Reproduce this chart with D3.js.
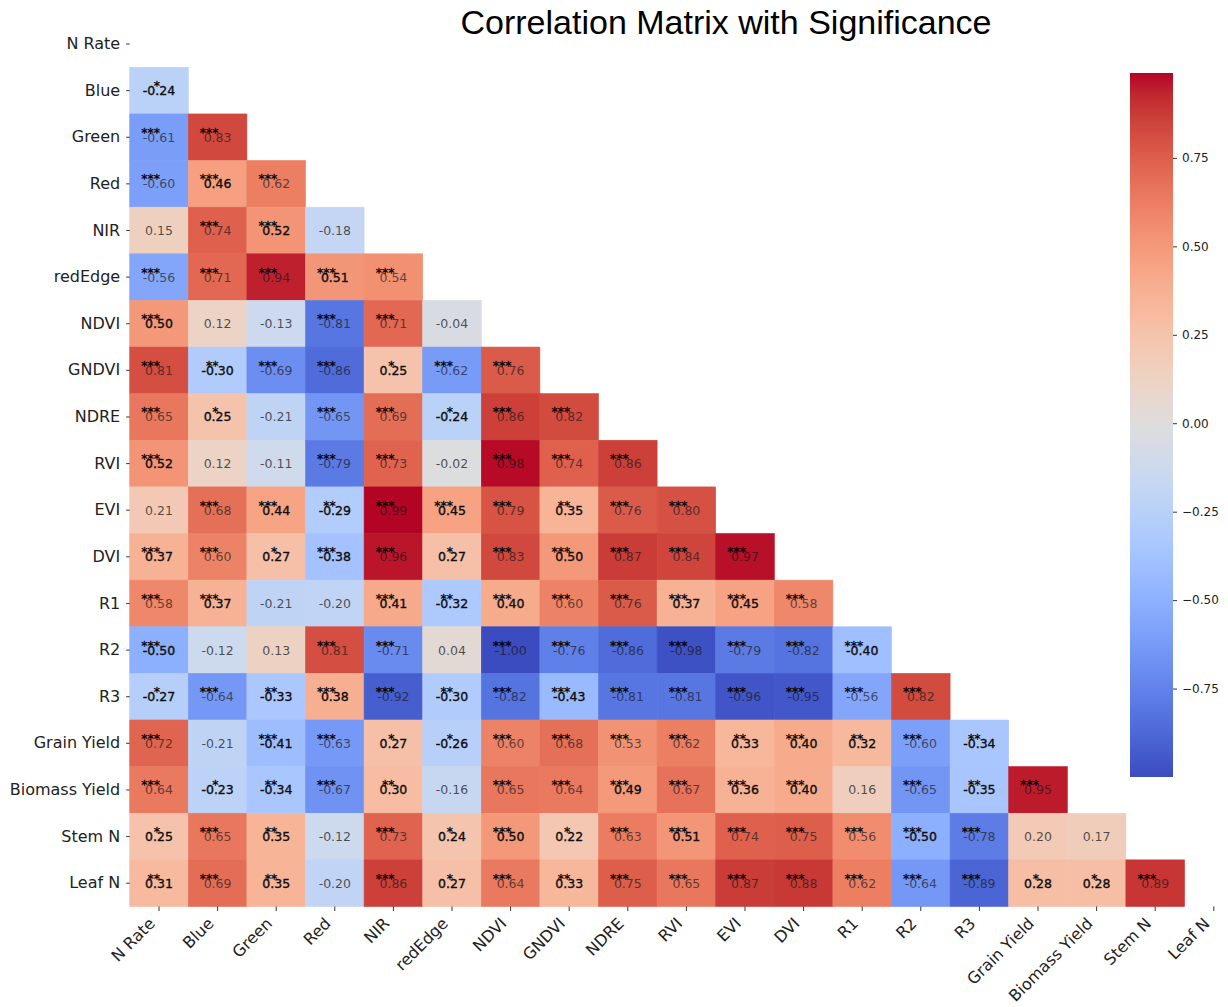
<!DOCTYPE html>
<html>
<head>
<meta charset="utf-8">
<script src="https://cdn.jsdelivr.net/npm/d3@7"></script>
<style>
  body { margin: 0; background: #fff; }
  svg { display: block; }
  text { font-family: "DejaVu Sans", sans-serif; }
</style>
</head>
<body>
<svg id="chart" width="1228" height="1007"></svg>
<script>
// Variables, in matrix order (rows top to bottom, columns left to right)
const variables = ["N Rate", "Blue", "Green", "Red", "NIR", "redEdge", "NDVI", "GNDVI", "NDRE",
  "RVI", "EVI", "DVI", "R1", "R2", "R3", "Grain Yield", "Biomass Yield", "Stem N", "Leaf N"];

// Lower triangle of the Pearson correlation matrix (row i holds columns 0..i-1)
const corrRows = [
  [],
  [-0.24],
  [-0.61, 0.83],
  [-0.60, 0.46, 0.62],
  [0.15, 0.74, 0.52, -0.18],
  [-0.56, 0.71, 0.94, 0.51, 0.54],
  [0.50, 0.12, -0.13, -0.81, 0.71, -0.04],
  [0.81, -0.30, -0.69, -0.86, 0.25, -0.62, 0.76],
  [0.65, 0.25, -0.21, -0.65, 0.69, -0.24, 0.86, 0.82],
  [0.52, 0.12, -0.11, -0.79, 0.73, -0.02, 0.98, 0.74, 0.86],
  [0.21, 0.68, 0.44, -0.29, 0.99, 0.45, 0.79, 0.35, 0.76, 0.80],
  [0.37, 0.60, 0.27, -0.38, 0.96, 0.27, 0.83, 0.50, 0.87, 0.84, 0.97],
  [0.58, 0.37, -0.21, -0.20, 0.41, -0.32, 0.40, 0.60, 0.76, 0.37, 0.45, 0.58],
  [-0.50, -0.12, 0.13, 0.81, -0.71, 0.04, -1.00, -0.76, -0.86, -0.98, -0.79, -0.82, -0.40],
  [-0.27, -0.64, -0.33, 0.38, -0.92, -0.30, -0.82, -0.43, -0.81, -0.81, -0.96, -0.95, -0.56, 0.82],
  [0.72, -0.21, -0.41, -0.63, 0.27, -0.26, 0.60, 0.68, 0.53, 0.62, 0.33, 0.40, 0.32, -0.60, -0.34],
  [0.64, -0.23, -0.34, -0.67, 0.30, -0.16, 0.65, 0.64, 0.49, 0.67, 0.36, 0.40, 0.16, -0.65, -0.35, 0.95],
  [0.25, 0.65, 0.35, -0.12, 0.73, 0.24, 0.50, 0.22, 0.63, 0.51, 0.74, 0.75, 0.56, -0.50, -0.78, 0.20, 0.17],
  [0.31, 0.69, 0.35, -0.20, 0.86, 0.27, 0.64, 0.33, 0.75, 0.65, 0.87, 0.88, 0.62, -0.64, -0.89, 0.28, 0.28, 0.89]
];

// Significance level per cell: number of stars (0 = n.s., 1 = p<0.05, 2 = p<0.01, 3 = p<0.001)
const starRows = [
  [],
  [1],
  [3, 3],
  [3, 3, 3],
  [0, 3, 3, 0],
  [3, 3, 3, 3, 3],
  [3, 0, 0, 3, 3, 0],
  [3, 2, 3, 3, 1, 3, 3],
  [3, 1, 0, 3, 3, 1, 3, 3],
  [3, 0, 0, 3, 3, 0, 3, 3, 3],
  [0, 3, 3, 2, 3, 3, 3, 2, 3, 3],
  [3, 3, 1, 3, 3, 1, 3, 3, 3, 3, 3],
  [3, 3, 0, 0, 3, 2, 3, 3, 3, 3, 3, 3],
  [3, 0, 0, 3, 3, 0, 3, 3, 3, 3, 3, 3, 3],
  [1, 3, 2, 3, 3, 2, 3, 3, 3, 3, 3, 3, 3, 3],
  [3, 0, 3, 3, 1, 1, 3, 3, 3, 3, 2, 3, 2, 3, 2],
  [3, 1, 2, 3, 2, 0, 3, 3, 3, 3, 3, 3, 0, 3, 2, 3],
  [1, 3, 2, 0, 3, 1, 3, 1, 3, 3, 3, 3, 3, 3, 3, 0, 0],
  [2, 3, 2, 0, 3, 1, 3, 2, 3, 3, 3, 3, 3, 3, 3, 1, 1, 3]
];

// Colour bar tick values
const colorbarTicks = [-0.75, -0.50, -0.25, 0.00, 0.25, 0.50, 0.75];

// Diverging cool-warm palette (Moreland), 33 evenly spaced stops
const coolwarmStops = [
  [59, 76, 192], [68, 90, 204], [77, 104, 215], [87, 117, 225], [98, 130, 234], [108, 142, 241],
  [119, 154, 247], [130, 165, 251], [141, 176, 254], [152, 185, 255], [163, 194, 255], [174, 201, 253],
  [184, 208, 249], [194, 213, 244], [204, 217, 238], [213, 219, 230], [221, 221, 221], [229, 216, 209],
  [236, 211, 197], [241, 204, 185], [245, 196, 173], [247, 187, 160], [247, 177, 148], [247, 166, 135],
  [244, 154, 123], [241, 141, 111], [236, 127, 99], [229, 112, 88], [222, 96, 77], [213, 80, 66],
  [203, 62, 56], [192, 40, 47], [180, 4, 38]
];

const svg = d3.select("#chart");

// ---- scales -------------------------------------------------------------
const x = d3.scaleBand().domain(variables).range([129.7, 129.7 + 58.6 * variables.length]);
const y = d3.scaleBand().domain(variables).range([20.7, 906.5]);

const cells = [];
corrRows.forEach((row, i) => row.forEach((v, j) => {
  cells.push({ row: variables[i], col: variables[j], v, stars: starRows[i][j] });
}));

const vmin = d3.min(cells, d => d.v);
const vmax = d3.max(cells, d => d.v);

const palette = d3.scaleLinear()
  .domain(coolwarmStops.map((_, i) => i / (coolwarmStops.length - 1)))
  .range(coolwarmStops.map(c => d3.rgb(c[0], c[1], c[2])))
  .interpolate(d3.interpolateRgb);
const norm = d3.scaleLinear().domain([vmin, vmax]).range([0, 1]).clamp(true);
const color = v => palette(norm(v));

// relative luminance, used to pick a legible annotation colour
function luminance(c) {
  const rgb = d3.rgb(c);
  const f = u => { u /= 255; return u <= 0.03928 ? u / 12.92 : Math.pow((u + 0.055) / 1.055, 2.4); };
  return 0.2126 * f(rgb.r) + 0.7152 * f(rgb.g) + 0.0722 * f(rgb.b);
}
const isLight = d => luminance(color(d.v)) > 0.408;

// annotation colour: grey when not significant, near-black on light cells,
// a darkened tone of the cell on dark cells
function valueFill(d) {
  if (d.stars === 0) return "#262626";
  if (isLight(d)) return "#0d0d0d";
  return d3.interpolateRgb(color(d.v), "#141414")(0.62);
}

// ---- heatmap cells ------------------------------------------------------
const g = svg.append("g");
g.selectAll("rect.cell")
  .data(cells)
  .join("rect")
  .attr("class", "cell")
  .attr("x", d => x(d.col))
  .attr("y", d => y(d.row))
  .attr("width", x.bandwidth())
  .attr("height", y.bandwidth())
  .attr("fill", d => color(d.v))
  .attr("stroke", d => color(d.v))
  .attr("stroke-width", 0.6);

const cx = d => x(d.col) + x.bandwidth() / 2;
const cy = d => y(d.row) + y.bandwidth() / 2;

g.selectAll("text.val")
  .data(cells)
  .join("text")
  .attr("class", "val")
  .attr("x", cx)
  .attr("y", cy)
  .attr("dy", "0.36em")
  .attr("text-anchor", "middle")
  .attr("font-size", 12.5)
  .attr("fill", valueFill)
  .attr("fill-opacity", d => d.stars === 0 ? 0.78 : 1)
  .attr("stroke", d => (d.stars > 0 && isLight(d)) ? "#0d0d0d" : "none")
  .attr("stroke-width", 0.35)
  .text(d => d.v.toFixed(2));

// significance stars, right-aligned just above-left of the value
g.selectAll("text.stars")
  .data(cells.filter(d => d.stars > 0))
  .join("text")
  .attr("class", "stars")
  .attr("x", d => cx(d) + 1)
  .attr("y", d => cy(d) - 0.5)
  .attr("text-anchor", "end")
  .attr("font-size", 12.5)
  .attr("fill", "#000")
  .attr("stroke", "#000")
  .attr("stroke-width", 0.3)
  .text(d => "*".repeat(d.stars));

// ---- axes ---------------------------------------------------------------
const yAxis = svg.append("g")
  .attr("transform", `translate(${x.range()[0]},0)`)
  .call(d3.axisLeft(y).tickSize(3.5).tickPadding(6));
yAxis.select(".domain").remove();
yAxis.selectAll(".tick line").attr("stroke", "#333");
yAxis.selectAll(".tick text")
  .attr("font-family", "DejaVu Sans, sans-serif")
  .attr("font-size", 16)
  .attr("fill", "#222");

const xAxis = svg.append("g")
  .attr("transform", `translate(0,${y.range()[1]})`)
  .call(d3.axisBottom(x).tickSize(4.5).tickPadding(3));
xAxis.select(".domain").remove();
xAxis.selectAll(".tick line").attr("stroke", "#333");
xAxis.selectAll(".tick text")
  .attr("font-family", "DejaVu Sans, sans-serif")
  .attr("font-size", 16)
  .attr("fill", "#222")
  .attr("text-anchor", "end")
  .attr("x", 0)
  .attr("y", 0)
  .attr("dy", 0)
  .attr("transform", "translate(-3,18) rotate(-45)");

// ---- colour bar ---------------------------------------------------------
const cb = { x: 1130, w: 43, top: 73, bottom: 777 };
const cbScale = d3.scaleLinear().domain([vmin, vmax]).range([cb.bottom, cb.top]);

const grad = svg.append("defs").append("linearGradient")
  .attr("id", "cbGrad")
  .attr("x1", 0).attr("y1", 1).attr("x2", 0).attr("y2", 0);
d3.range(0, 1.0001, 1 / 64).forEach(t => {
  grad.append("stop").attr("offset", t).attr("stop-color", palette(t));
});
svg.append("rect")
  .attr("x", cb.x).attr("y", cb.top)
  .attr("width", cb.w).attr("height", cb.bottom - cb.top)
  .attr("fill", "url(#cbGrad)");

const cbAxis = svg.append("g")
  .attr("transform", `translate(${cb.x + cb.w},0)`)
  .call(d3.axisRight(cbScale).tickValues(colorbarTicks).tickFormat(d3.format(".2f")).tickSize(4).tickPadding(5));
cbAxis.select(".domain").remove();
cbAxis.selectAll(".tick line").attr("stroke", "#333");
cbAxis.selectAll(".tick text")
  .attr("font-family", "DejaVu Sans, sans-serif")
  .attr("font-size", 12)
  .attr("fill", "#222");

// ---- title --------------------------------------------------------------
svg.append("text")
  .attr("x", 726)
  .attr("y", 34)
  .attr("text-anchor", "middle")
  .style("font-family", "'Liberation Sans', Arial, sans-serif")
  .attr("font-size", 34)
  .attr("fill", "#000")
  .text("Correlation Matrix with Significance");
</script>
</body>
</html>
